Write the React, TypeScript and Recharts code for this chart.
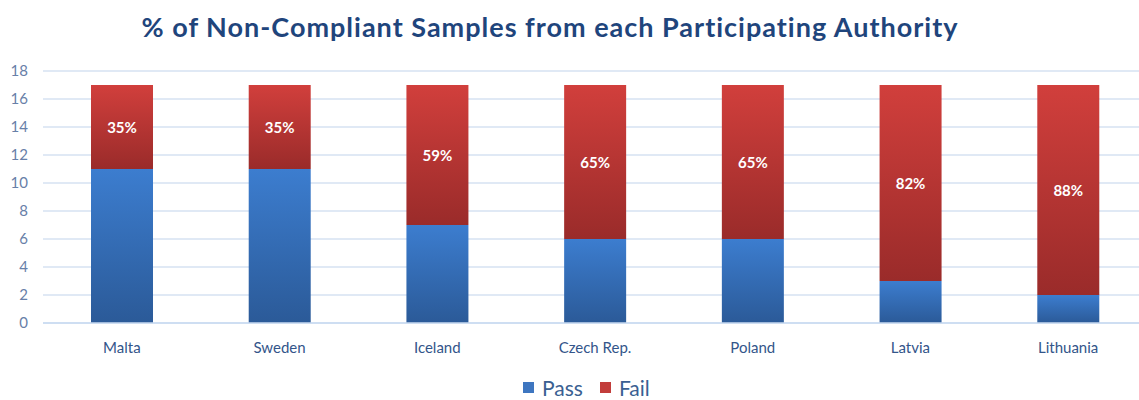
import { BarChart, Bar, XAxis, YAxis, CartesianGrid, Legend, LabelList } from "recharts"

const countries = ["Malta", "Sweden", "Iceland", "Czech Rep.", "Poland", "Latvia", "Lithuania"]
const passCounts = [11, 11, 7, 6, 6, 3, 2]
const failCounts = [6, 6, 10, 11, 11, 14, 15]
const failLabels = ["35%", "35%", "59%", "65%", "65%", "82%", "88%"]
const yTicks = [0, 2, 4, 6, 8, 10, 12, 14, 16, 18]

const data = countries.map((c, i) => ({
  country: c,
  Pass: passCounts[i],
  Fail: failCounts[i],
  label: failLabels[i],
}))

const FONT = "Lato, 'Open Sans', sans-serif"

function FailLabel(props: any) {
  const { x, y, width, height, index } = props
  return (
    <text
      x={x + width / 2}
      y={y + height / 2}
      textAnchor="middle"
      dominantBaseline="central"
      fill="#ffffff"
      fontWeight={700}
      fontSize={15}
      fontFamily={FONT}
    >
      {failLabels[index]}
    </text>
  )
}

function LegendBox() {
  const items = [
    { name: "Pass", color: "#3e76c0" },
    { name: "Fail", color: "#c23d3b" },
  ]
  return (
    <div style={{ display: "flex", height: 30, paddingLeft: 523, paddingTop: 3 }}>
      {items.map((it) => (
        <div key={it.name} style={{ display: "flex", alignItems: "center", marginRight: 17 }}>
          <span style={{ width: 11, height: 11, background: it.color, display: "inline-block", marginRight: 8 }} />
          <span style={{ fontFamily: FONT, fontSize: 21, color: "#3a5f92" }}>{it.name}</span>
        </div>
      ))}
    </div>
  )
}

export default function App() {
  return (
    <div style={{ position: "absolute", left: 0, top: 0, width: 1139, height: 400, overflow: "hidden", background: "#fff" }}>
      <div
        style={{
          position: "absolute",
          top: 10,
          left: 139,
          width: 822,
          textAlign: "center",
          fontFamily: FONT,
          fontWeight: 700,
          fontSize: 27,
          letterSpacing: 1,
          color: "#1f457c",
          whiteSpace: "nowrap",
        }}
      >
        % of Non-Compliant Samples from each Participating Authority
      </div>
      <BarChart
        width={1160}
        height={400}
        data={data}
        margin={{ top: 71, right: 13, left: 0, bottom: 0 }}
        barSize={62}
      >
        <defs>
          <linearGradient id="passGrad" x1="0" y1="0" x2="0" y2="1">
            <stop offset="0%" stopColor="#3c7dcf" />
            <stop offset="100%" stopColor="#2b5a98" />
          </linearGradient>
          <linearGradient id="failGrad" x1="0" y1="0" x2="0" y2="1">
            <stop offset="0%" stopColor="#d13f3c" />
            <stop offset="100%" stopColor="#9a2b2a" />
          </linearGradient>
        </defs>
        <CartesianGrid vertical={false} stroke="#d6e2f2" strokeWidth={1.5} />
        <XAxis
          dataKey="country"
          axisLine={{ stroke: "#c9daf0", strokeWidth: 1.5 }}
          tickLine={false}
          height={46}
          tickMargin={13}
          tick={{ fill: "#33558a", fontSize: 15, fontFamily: FONT }}
        />
        <YAxis
          domain={[0, 18]}
          ticks={yTicks}
          width={43}
          axisLine={false}
          tickLine={false}
          tickSize={0}
          tickMargin={15}
          tick={{ fill: "#6880a8", fontSize: 15, fontFamily: FONT }}
        />
        <Legend verticalAlign="bottom" height={31} content={() => <LegendBox />} />
        <Bar dataKey="Pass" stackId="a" fill="url(#passGrad)" isAnimationActive={false} />
        <Bar dataKey="Fail" stackId="a" fill="url(#failGrad)" isAnimationActive={false}>
          <LabelList dataKey="label" content={<FailLabel />} />
        </Bar>
      </BarChart>
    </div>
  )
}
